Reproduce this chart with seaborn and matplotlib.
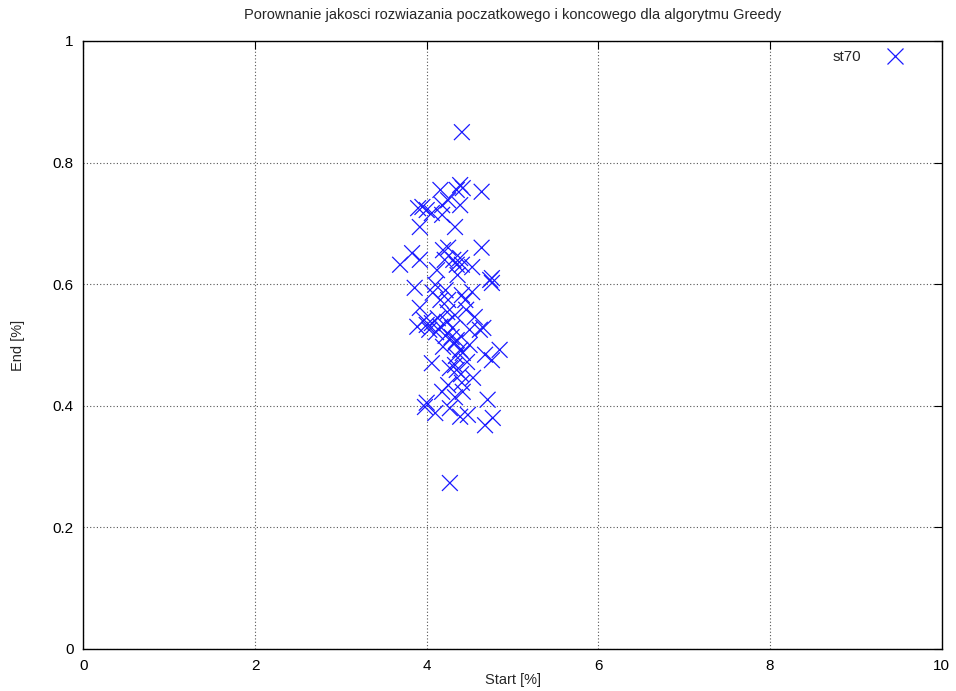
import matplotlib
matplotlib.use("Agg")
import matplotlib.pyplot as plt
import seaborn as sns
import pandas as pd

# Start / end solution quality for st70 (Greedy runs)
start_pct = [
    4.41, 4.39, 4.42, 4.35, 4.64, 4.16, 4.25, 4.18, 4.39, 3.95,
    3.90, 4.00, 4.06, 4.18, 3.92, 4.33, 3.69, 3.83, 3.92, 4.19,
    4.25, 4.21, 4.31, 4.39, 4.35, 4.53, 4.64, 4.76, 4.76, 4.74,
    3.86, 4.10, 4.16, 4.41, 4.45, 4.53, 3.92, 4.24, 3.89, 4.00,
    4.06, 4.16, 4.24, 4.29, 4.35, 4.33, 4.42, 4.50, 4.62, 4.66,
    4.19, 4.85, 4.68, 4.76, 4.06, 4.33, 4.35, 4.27, 4.54, 4.41,
    4.18, 4.33, 4.42, 4.00, 3.98, 4.10, 4.27, 4.39, 4.48, 4.71,
    4.77, 4.68, 4.27, 4.03, 4.11, 3.97, 4.13, 4.22, 4.30, 4.39,
    4.47, 4.34, 4.40, 4.25, 4.12, 4.36, 4.22, 4.46, 4.56, 4.50,
    4.25, 4.33, 4.07, 4.41,
]
end_pct = [
    0.850, 0.763, 0.758, 0.755, 0.752, 0.755, 0.738, 0.730, 0.730, 0.727,
    0.725, 0.722, 0.717, 0.714, 0.694, 0.694, 0.632, 0.651, 0.640, 0.656,
    0.660, 0.640, 0.640, 0.643, 0.632, 0.628, 0.660, 0.610, 0.602, 0.607,
    0.594, 0.599, 0.574, 0.582, 0.574, 0.587, 0.561, 0.554, 0.530, 0.533,
    0.536, 0.530, 0.538, 0.513, 0.508, 0.503, 0.487, 0.525, 0.525, 0.528,
    0.497, 0.492, 0.484, 0.475, 0.470, 0.467, 0.459, 0.462, 0.446, 0.438,
    0.423, 0.414, 0.423, 0.405, 0.398, 0.388, 0.396, 0.382, 0.385, 0.410,
    0.380, 0.368, 0.273, 0.525, 0.521, 0.541, 0.544, 0.515, 0.528, 0.492,
    0.472, 0.482, 0.452, 0.434, 0.623, 0.615, 0.590, 0.558, 0.546, 0.500,
    0.574, 0.549, 0.586, 0.632,
]
series_name = "st70"

x_ticks = [0, 2, 4, 6, 8, 10]
y_ticks = [0, 0.2, 0.4, 0.6, 0.8, 1]
y_tick_labels = ["0", "0.2", "0.4", "0.6", "0.8", "1"]

df = pd.DataFrame({"Start": start_pct, "End": end_pct,
                   "instance": [series_name] * len(start_pct)})

sns.set_style("white")
plt.rcParams["font.family"] = ["Liberation Sans", "DejaVu Sans"]

fig = plt.figure(figsize=(9.56, 6.91), dpi=100)
ax = fig.add_axes([0.0873, 0.0608, 0.8976, 0.8799])

sns.scatterplot(data=df, x="Start", y="End", hue="instance",
                palette=["#1a1aff"], marker="x", s=130, linewidth=0.9,
                ax=ax, zorder=3)

ax.set_xlim(0, 10)
ax.set_ylim(0, 1)
ax.set_xticks(x_ticks)
ax.set_xticklabels([str(t) for t in x_ticks])
ax.set_yticks(y_ticks)
ax.set_yticklabels(y_tick_labels)
ax.tick_params(direction="in", length=6, width=0.8, top=True, right=True,
               labelsize=11, colors="black", pad=7)
ax.grid(True, linestyle=(0, (1, 2)), color="#555555", linewidth=0.8)
ax.set_axisbelow(True)
for sp in ax.spines.values():
    sp.set_color("black")
    sp.set_linewidth(1.0)

ax.set_xlabel("Start [%]", fontsize=10.5, labelpad=0)
ax.set_ylabel("End [%]", fontsize=10.5, labelpad=20)
ax.set_title("Porownanie jakosci rozwiazania poczatkowego i koncowego dla algorytmu Greedy",
             fontsize=10.5, pad=16)

ax.legend(loc="upper right", frameon=False, markerfirst=False, fontsize=11,
          handletextpad=1.2, borderaxespad=0.6,
          bbox_to_anchor=(1 - 16 / 858, 1 + 6 / 608))

fig.savefig("out.png", dpi=100)
